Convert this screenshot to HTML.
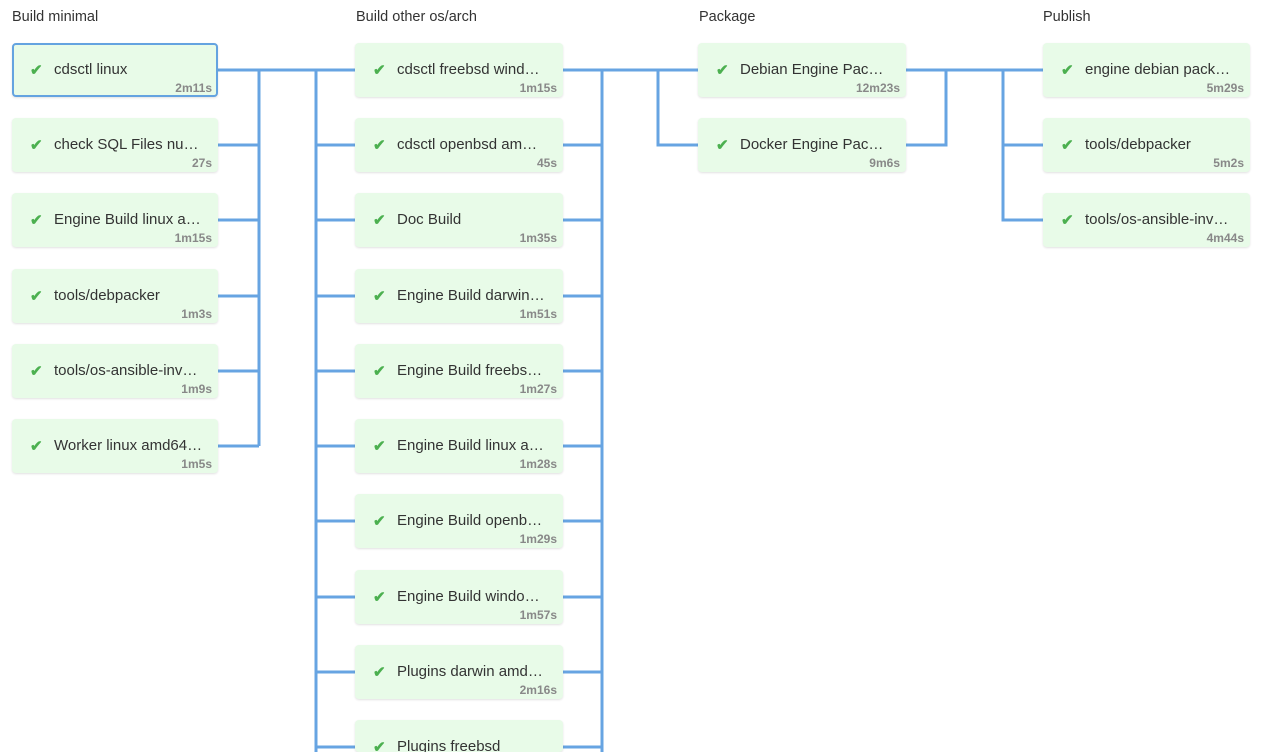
<!DOCTYPE html>
<html style="overflow:hidden;height:752px"><head><meta charset="utf-8"><style>
body{margin:0;width:1280px;height:752px;overflow:hidden;background:#fff;font-family:"Liberation Sans",Arial,sans-serif;position:relative}
.h{position:absolute;top:9px;font-size:14.5px;color:#333}
.b{position:absolute;width:206px;height:54px;background:#e8fbe8;border-radius:4px;box-shadow:0 1px 2px rgba(0,0,0,0.12);box-sizing:border-box}
.b.sel{border:2px solid #64a3e0}
.b .c{position:absolute;left:18px;top:18px;color:#4cb050;font-size:15px;font-weight:bold}
.b .t{position:absolute;left:42px;top:18px;font-size:15px;color:#333;white-space:nowrap}
.b .d{position:absolute;right:6px;top:38px;font-size:12px;font-weight:bold;color:#888}
.b.sel .c{left:16px;top:16px}.b.sel .t{left:40px;top:16px}.b.sel .d{right:4px;top:36px}
svg{position:absolute;left:0;top:0}
</style></head><body>
<svg width="1280" height="752"><g stroke="#67a4e2" stroke-width="3" fill="none">
<path d="M218 70H355M259 70V446M218 145H259M218 220H259M218 296H259M218 371H259M218 446H259"/>
<path d="M316 70V752M316 145H355M316 220H355M316 296H355M316 371H355M316 446H355M316 521H355M316 597H355M316 672H355M316 747H355"/>
<path d="M563 70H698M602 70V752M563 145H602M563 220H602M563 296H602M563 371H602M563 446H602M563 521H602M563 597H602M563 672H602M563 747H602"/>
<path d="M658 70V145H698"/>
<path d="M906 70H1043M946 70V145H906M1003 70V220H1043M1003 145H1043"/>
</g></svg>
<div class="h" style="left:12px">Build minimal</div>
<div class="h" style="left:356px">Build other os/arch</div>
<div class="h" style="left:699px">Package</div>
<div class="h" style="left:1043px">Publish</div>

<div class="b sel" style="left:12px;top:43px"><span class="c">✔</span><span class="t">cdsctl linux</span><span class="d">2m11s</span></div>
<div class="b" style="left:12px;top:118px"><span class="c">✔</span><span class="t">check SQL Files nu…</span><span class="d">27s</span></div>
<div class="b" style="left:12px;top:193px"><span class="c">✔</span><span class="t">Engine Build linux a…</span><span class="d">1m15s</span></div>
<div class="b" style="left:12px;top:269px"><span class="c">✔</span><span class="t">tools/debpacker</span><span class="d">1m3s</span></div>
<div class="b" style="left:12px;top:344px"><span class="c">✔</span><span class="t">tools/os-ansible-inv…</span><span class="d">1m9s</span></div>
<div class="b" style="left:12px;top:419px"><span class="c">✔</span><span class="t">Worker linux amd64…</span><span class="d">1m5s</span></div>

<div class="b" style="left:355px;top:43px;width:208px"><span class="c">✔</span><span class="t">cdsctl freebsd wind…</span><span class="d">1m15s</span></div>
<div class="b" style="left:355px;top:118px;width:208px"><span class="c">✔</span><span class="t">cdsctl openbsd am…</span><span class="d">45s</span></div>
<div class="b" style="left:355px;top:193px;width:208px"><span class="c">✔</span><span class="t">Doc Build</span><span class="d">1m35s</span></div>
<div class="b" style="left:355px;top:269px;width:208px"><span class="c">✔</span><span class="t">Engine Build darwin…</span><span class="d">1m51s</span></div>
<div class="b" style="left:355px;top:344px;width:208px"><span class="c">✔</span><span class="t">Engine Build freebs…</span><span class="d">1m27s</span></div>
<div class="b" style="left:355px;top:419px;width:208px"><span class="c">✔</span><span class="t">Engine Build linux a…</span><span class="d">1m28s</span></div>
<div class="b" style="left:355px;top:494px;width:208px"><span class="c">✔</span><span class="t">Engine Build openb…</span><span class="d">1m29s</span></div>
<div class="b" style="left:355px;top:570px;width:208px"><span class="c">✔</span><span class="t">Engine Build windo…</span><span class="d">1m57s</span></div>
<div class="b" style="left:355px;top:645px;width:208px"><span class="c">✔</span><span class="t">Plugins darwin amd…</span><span class="d">2m16s</span></div>
<div class="b" style="left:355px;top:720px;width:208px;height:32px"><span class="c">✔</span><span class="t">Plugins freebsd</span></div>

<div class="b" style="left:698px;top:43px;width:208px"><span class="c">✔</span><span class="t">Debian Engine Pac…</span><span class="d">12m23s</span></div>
<div class="b" style="left:698px;top:118px;width:208px"><span class="c">✔</span><span class="t">Docker Engine Pac…</span><span class="d">9m6s</span></div>

<div class="b" style="left:1043px;top:43px;width:207px"><span class="c">✔</span><span class="t">engine debian pack…</span><span class="d">5m29s</span></div>
<div class="b" style="left:1043px;top:118px;width:207px"><span class="c">✔</span><span class="t">tools/debpacker</span><span class="d">5m2s</span></div>
<div class="b" style="left:1043px;top:193px;width:207px"><span class="c">✔</span><span class="t">tools/os-ansible-inv…</span><span class="d">4m44s</span></div>
</body></html>
